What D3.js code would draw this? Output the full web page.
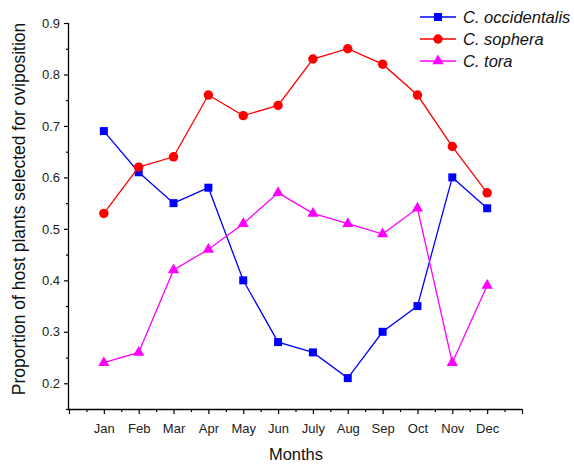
<!DOCTYPE html>
<html><head><meta charset="utf-8">
<script src="https://d3js.org/d3.v7.min.js"></script>
<style>body{margin:0;background:#fff}svg{display:block}text{font-family:"Liberation Sans",Arial,sans-serif}</style>
</head><body><svg id="c" width="574" height="466"></svg>
<script>
const months = ["Jan","Feb","Mar","Apr","May","Jun","July","Aug","Sep","Oct","Nov","Dec"];
const occidentalis = [0.69,0.61,0.55,0.58,0.40,0.28,0.26,0.21,0.30,0.35,0.60,0.54];
const sophera = [0.53,0.62,0.64,0.76,0.72,0.74,0.83,0.85,0.82,0.76,0.66,0.57];
const tora = [0.24,0.26,0.42,0.46,0.51,0.57,0.53,0.51,0.49,0.54,0.24,0.39];
const yTicks = [0.2,0.3,0.4,0.5,0.6,0.7,0.8,0.9];
const seriesNames = ["C. occidentalis","C. sophera","C. tora"];

const svg = d3.select("#c");
const x = d3.scaleLinear().domain([0,13]).range([69,522]);
const y = d3.scaleLinear().domain([0.15,0.9]).range([409,23]);

// X axis
const gx = svg.append("g").attr("transform","translate(0,409)");
gx.call(d3.axisBottom(x).tickValues(d3.range(0,13.01,1)).tickSize(5).tickFormat(d=> (d>=1&&d<=12)?months[d-1]:""));
gx.append("g").attr("class","minor").call(d3.axisBottom(x).tickValues(d3.range(0.5,13,1)).tickSize(3).tickFormat(""));
// Y axis
const gy = svg.append("g").attr("transform","translate(69,0)");
gy.call(d3.axisLeft(y).tickValues(yTicks).tickSize(5).tickFormat(d3.format(".1f")));
gy.append("g").attr("class","minor").call(d3.axisLeft(y).tickValues(d3.range(0.15,0.9,0.1).map(v=>+v.toFixed(2))).tickSize(3).tickFormat(""));
svg.selectAll(".minor path.domain").remove();
svg.selectAll(".domain").attr("stroke","#000").attr("stroke-width",1.3);
svg.selectAll(".tick line").attr("stroke","#000").attr("stroke-width",1.2);
gx.selectAll(".tick text").attr("font-size",13).attr("fill","#222").attr("dy","1.2em");
gy.selectAll(".tick text").attr("font-size",13).attr("fill","#222").attr("dx","-1px");
gx.select("path.domain").attr("d","M69,0.5H522");
gy.select("path.domain").attr("d","M-0.5,23V409");

// Titles
svg.append("text").attr("x",296).attr("y",460).attr("text-anchor","middle").attr("font-size",16.5).attr("fill","#111").text("Months");
svg.append("text").attr("transform","translate(25,209) rotate(-90)").attr("text-anchor","middle").attr("font-size",17.5).attr("fill","#111").text("Proportion of host plants selected for oviposition");

const series = [
  {name:seriesNames[0], vals:occidentalis, color:"#0000ff", shape:d3.symbolSquare, size:64},
  {name:seriesNames[1], vals:sophera, color:"#ff0000", shape:d3.symbolCircle, size:70},
  {name:seriesNames[2], vals:tora, color:"#ff00ff", shape:d3.symbolTriangle, size:55}
];
const line = d3.line().x((d,i)=>x(i+1)).y(d=>y(d));
series.forEach(s=>{
  svg.append("path").attr("d",line(s.vals)).attr("fill","none").attr("stroke",s.color).attr("stroke-width",1.3);
  svg.selectAll(null).data(s.vals).enter().append("path")
    .attr("d",d3.symbol().type(s.shape).size(s.size))
    .attr("transform",(d,i)=>`translate(${x(i+1)},${y(d)})`)
    .attr("fill",s.color);
});

// Legend
series.forEach((s,i)=>{
  const ly = 17 + i*22;
  svg.append("line").attr("x1",420).attr("x2",456).attr("y1",ly).attr("y2",ly).attr("stroke",s.color).attr("stroke-width",1.3);
  svg.append("path").attr("d",d3.symbol().type(s.shape).size(s.size)).attr("transform",`translate(438,${ly})`).attr("fill",s.color);
  svg.append("text").attr("x",463).attr("y",ly+5.5).attr("font-size",16.5).attr("font-style","italic").attr("fill","#111").text(s.name);
});
</script></body></html>
